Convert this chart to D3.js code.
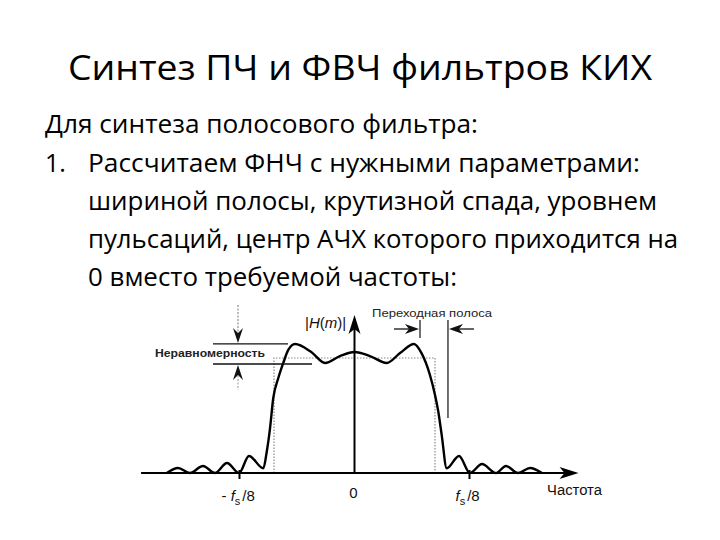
<!DOCTYPE html>
<html><head><meta charset="utf-8">
<script src="https://cdn.jsdelivr.net/npm/d3@7"></script>
<style>html,body{margin:0;padding:0;background:#fff;}svg{display:block;}</style>
</head><body>
<script>
// ---- data ----
const titleText = "Синтез ПЧ и ФВЧ фильтров КИХ";
const bodyLines = [
  "Для синтеза полосового фильтра:",
  "Рассчитаем ФНЧ с нужными параметрами:",
  "шириной полосы, крутизной спада, уровнем",
  "пульсаций, центр АЧХ которого приходится на",
  "0 вместо требуемой частоты:"
];
// normalised frequency f/fs and magnitude |H(m)|
const freq = [-0.2041,-0.1918,-0.1788,-0.1647,-0.1516,-0.1386,-0.1255,-0.1147,-0.0991,-0.0954,-0.0918,-0.0883,-0.0828,-0.0774,-0.072,-0.0647,-0.047,-0.0321,-0.0158,0,0.0168,0.035,0.0495,0.0647,0.073,0.082,0.0875,0.0911,0.0948,0.1002,0.1136,0.1255,0.1386,0.1538,0.1647,0.1777,0.1908,0.2038];
const mag  = [0,0.043,0,0.061,0,0.087,0,0.148,0.041,0.185,0.391,0.652,0.826,0.957,1.07,1.122,1.052,0.957,1.017,1.052,1.017,0.957,1.043,1.122,1.04,0.852,0.678,0.533,0.33,0.041,0.148,0,0.078,0,0.061,0,0.043,0];
const idealFreq = [-0.0875,-0.0875,0.0875,0.0875];
const idealMag  = [0,1,1,0];
const tickValues = [-0.125, 0, 0.125];
const tickLabels = [["- ","f","s","/8"],["0"],["","f","s","/8"]];
const rippleLevels = [1.122, 0.948];
const transEdges = [0.0712, 0.1016];
const axisExtent = [-0.232, 0.2435];
const yAxisTop = 1.374;

// ---- drawing ----
const W = 720, H = 540;
const svg = d3.select("body").append("svg").attr("width", W).attr("height", H);
svg.append("rect").attr("width", W).attr("height", H).attr("fill", "#fff");

const fontMain = "'Open Sans', 'Noto Sans', sans-serif";
svg.append("text").attr("x", 68).attr("y", 80)
  .attr("font-family", fontMain).attr("font-size", 34).attr("fill", "#000")
  .attr("textLength", 584).attr("lengthAdjust", "spacingAndGlyphs")
  .text(titleText);

const bodyX = [45, 88, 88, 88, 88];
const bodyY = [133, 172, 210, 248, 286];
const bodyEnd = [478, 640, 657, 678, 457];
bodyLines.forEach((t, i) => {
  svg.append("text").attr("x", bodyX[i]).attr("y", bodyY[i])
    .attr("font-family", fontMain).attr("font-size", 25).attr("fill", "#000")
    .attr("textLength", bodyEnd[i] - bodyX[i]).attr("lengthAdjust", "spacingAndGlyphs")
    .text(t);
});
svg.append("text").attr("x", 45).attr("y", 172)
  .attr("font-family", fontMain).attr("font-size", 25).attr("fill", "#000").text("1.");

const x = d3.scaleLinear().domain([-0.125, 0.125]).range([239.5, 469.5]);
const y = d3.scaleLinear().domain([0, 1]).range([473, 358]);

const g = svg.append("g");
const fontAx = "'Liberation Sans', Arial, sans-serif";

// ideal (dotted) response
const idealPts = idealFreq.map((f, i) => [f, idealMag[i]]);
g.append("path")
  .attr("d", d3.line().x(d => x(d[0])).y(d => y(d[1]))(idealPts))
  .attr("fill", "none").attr("stroke", "#8a8a8a").attr("stroke-width", 1.2)
  .attr("stroke-dasharray", "1.5,1.5");

// x axis
g.append("line").attr("x1", x(axisExtent[0])).attr("x2", x(axisExtent[1]) - 8)
  .attr("y1", y(0)).attr("y2", y(0)).attr("stroke", "#000").attr("stroke-width", 2.2);
const ax = x(axisExtent[1]), ay = y(0);
g.append("path").attr("d", `M${ax},${ay} L${ax-19},${ay-6} L${ax-14},${ay} L${ax-19},${ay+6} Z`).attr("fill", "#000");

// y axis
const yx = x(0), yt = y(yAxisTop);
g.append("line").attr("x1", yx).attr("x2", yx).attr("y1", y(0)).attr("y2", yt + 8)
  .attr("stroke", "#000").attr("stroke-width", 2);
g.append("path").attr("d", `M${yx},${yt} L${yx-6},${yt+19} L${yx},${yt+14} L${yx+6},${yt+19} Z`).attr("fill", "#000");

// ticks & labels
tickValues.forEach((v, i) => {
  if (v !== 0) {
    g.append("line").attr("x1", x(v)).attr("x2", x(v)).attr("y1", y(0) - 3).attr("y2", y(0) + 6)
      .attr("stroke", "#000").attr("stroke-width", 2);
  }
  const lab = tickLabels[i];
  const t = g.append("text").attr("font-family", fontAx).attr("font-size", 15).attr("fill", "#111")
    .attr("y", v === 0 ? 498 : 501);
  if (lab.length === 1) {
    t.attr("x", x(v) - 1).attr("text-anchor", "middle").text(lab[0]);
  } else {
    t.attr("x", v < 0 ? x(v) - 18 : x(v) - 14);
    t.append("tspan").text(lab[0]);
    t.append("tspan").attr("font-style", "italic").text(lab[1]);
    t.append("tspan").attr("font-size", 11).attr("dy", 4).text(lab[2]);
    t.append("tspan").attr("dy", -4).attr("dx", 2).text(lab[3]);
  }
});
g.append("text").attr("x", 547).attr("y", 495).attr("font-family", fontAx).attr("font-size", 14)
  .attr("fill", "#111").attr("textLength", 55).attr("lengthAdjust", "spacingAndGlyphs").text("Частота");

// |H(m)| label
const hl = g.append("text").attr("x", 305).attr("y", 328).attr("font-family", fontAx)
  .attr("font-size", 15).attr("fill", "#111");
hl.append("tspan").text("|");
hl.append("tspan").attr("font-style", "italic").text("H");
hl.append("tspan").text("(");
hl.append("tspan").attr("font-style", "italic").text("m");
hl.append("tspan").text(")|");

// response curve
const pts = freq.map((f, i) => [f, mag[i]]);
g.append("path")
  .attr("d", d3.line().x(d => x(d[0])).y(d => y(d[1])).curve(d3.curveMonotoneX)(pts))
  .attr("fill", "none").attr("stroke", "#000").attr("stroke-width", 2.4)
  .attr("stroke-linejoin", "round");

// ripple annotation
const ry1 = y(rippleLevels[0]), ry2 = y(rippleLevels[1]);
g.append("line").attr("x1", 213).attr("x2", 288).attr("y1", ry1).attr("y2", ry1).attr("stroke", "#111").attr("stroke-width", 1.3);
g.append("line").attr("x1", 213).attr("x2", 312).attr("y1", ry2).attr("y2", ry2).attr("stroke", "#111").attr("stroke-width", 1.3);
const axx = 238;
g.append("line").attr("x1", axx).attr("x2", axx).attr("y1", 305).attr("y2", ry1 - 8)
  .attr("stroke", "#777").attr("stroke-width", 1).attr("stroke-dasharray", "2,1.5");
g.append("path").attr("d", `M${axx},${ry1-1} L${axx-5},${ry1-16} L${axx},${ry1-11} L${axx+5},${ry1-16} Z`).attr("fill", "#111");
g.append("line").attr("x1", axx).attr("x2", axx).attr("y1", ry2 + 8).attr("y2", 390)
  .attr("stroke", "#999").attr("stroke-width", 1).attr("stroke-dasharray", "2,1.5");
g.append("path").attr("d", `M${axx},${ry2+1} L${axx-5},${ry2+16} L${axx},${ry2+11} L${axx+5},${ry2+16} Z`).attr("fill", "#111");
g.append("text").attr("x", 155).attr("y", 357).attr("font-family", fontAx).attr("font-size", 11)
  .attr("font-weight", "bold").attr("fill", "#222")
  .attr("textLength", 110).attr("lengthAdjust", "spacingAndGlyphs").text("Неравномерность");

// transition band annotation
const tx1 = x(transEdges[0]), tx2 = x(transEdges[1]);
g.append("line").attr("x1", tx1).attr("x2", tx1).attr("y1", 320).attr("y2", 338).attr("stroke", "#111").attr("stroke-width", 1.2);
g.append("line").attr("x1", tx2).attr("x2", tx2).attr("y1", 320).attr("y2", 418).attr("stroke", "#111").attr("stroke-width", 1.2);
const ay2 = 329;
g.append("line").attr("x1", tx1 - 26).attr("x2", tx1 - 8).attr("y1", ay2).attr("y2", ay2).attr("stroke", "#111").attr("stroke-width", 1.3);
g.append("path").attr("d", `M${tx1-1},${ay2} L${tx1-15},${ay2-5} L${tx1-11},${ay2} L${tx1-15},${ay2+5} Z`).attr("fill", "#111");
g.append("line").attr("x1", tx2 + 8).attr("x2", tx2 + 26).attr("y1", ay2).attr("y2", ay2).attr("stroke", "#111").attr("stroke-width", 1.3);
g.append("path").attr("d", `M${tx2+1},${ay2} L${tx2+15},${ay2-5} L${tx2+11},${ay2} L${tx2+15},${ay2+5} Z`).attr("fill", "#111");
g.append("text").attr("x", 372).attr("y", 317).attr("font-family", fontAx).attr("font-size", 11)
  .attr("fill", "#222").attr("textLength", 120).attr("lengthAdjust", "spacingAndGlyphs").text("Переходная полоса");
</script>
</body></html>
